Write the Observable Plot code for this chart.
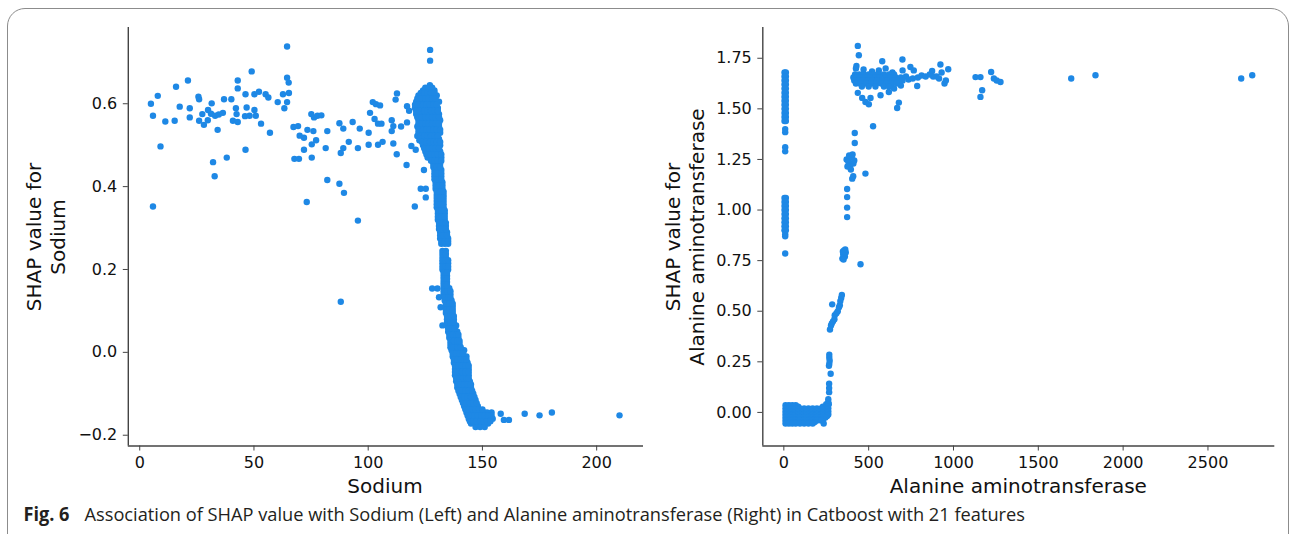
<!DOCTYPE html>
<html><head><meta charset="utf-8">
<script src="https://cdn.jsdelivr.net/npm/d3@7"></script>
<script src="https://cdn.jsdelivr.net/npm/@observablehq/plot@0.6"></script>
<style>
html,body{margin:0;padding:0;background:#fff;width:1290px;height:534px;overflow:hidden;}
#frame{position:absolute;left:7px;top:8px;width:1282px;height:600px;border:1.3px solid #8c8c8c;border-radius:18px;box-sizing:border-box;}
#left{position:absolute;left:0;top:0;}
#right{position:absolute;left:645px;top:0;}
#cap{position:absolute;left:0;top:0;}
</style></head><body>
<div id="frame"></div><div id="left"></div><div id="right"></div>
<svg id="cap" width="1290" height="534"></svg>
<script>
// ---------------- DATA ----------------
const sodiumTicks = [0, 50, 100, 150, 200];
const sodiumShapTicks = [-0.2, 0.0, 0.2, 0.4, 0.6];
const altTicks = [0, 500, 1000, 1500, 2000, 2500];
const altShapTicks = [0.00, 0.25, 0.50, 0.75, 1.00, 1.25, 1.50, 1.75];

// Sodium: scattered points [sodium, SHAP]
const sodiumScatter = [
[4.9,0.600],[5.8,0.571],[5.8,0.352],[7.9,0.619],[9.1,0.497],[11.2,0.557],[15.3,0.559],[15.9,0.641],[17.5,0.593],[21.1,0.656],
[21.9,0.589],[21.9,0.567],[25.7,0.617],[26,0.611],[26,0.559],[27.4,0.575],[28.1,0.549],[29.8,0.560],[29.9,0.585],[31.2,0.576],
[31.5,0.601],[32.1,0.459],[32.8,0.425],[33,0.571],[34.1,0.537],[34.6,0.574],[36.4,0.578],[36.9,0.611],[38.1,0.470],[40.1,0.611],
[40.8,0.559],[42.1,0.589],[42.4,0.575],[42.9,0.656],[42.9,0.637],[42.9,0.556],[46.1,0.570],[46.3,0.623],[46.3,0.489],[46.8,0.591],
[48.1,0.571],[49,0.678],[50.2,0.585],[50.2,0.623],[50.8,0.571],[52.2,0.629],[53.1,0.552],[55.1,0.623],[56.3,0.615],[57,0.530],
[60.4,0.604],[62.7,0.623],[63.3,0.589],[64.5,0.738],[64.5,0.663],[65.2,0.651],[65.3,0.626],[64.5,0.604],[67.3,0.544],[67.7,0.467],
[69.3,0.546],[70,0.523],[71.9,0.518],[73.4,0.537],[76,0.534],[75.1,0.575],[76.3,0.567],[77.8,0.571],[79.5,0.572],[77.2,0.512],
[75.3,0.502],[71.9,0.489],[69.7,0.467],[75.3,0.470],[82.1,0.534],[81.4,0.493],[73.1,0.363],[82.1,0.416],[87.4,0.407],[89.4,0.385],
[95.5,0.318],[88,0.122],[87.4,0.553],[89.1,0.540],[93.2,0.556],[96.3,0.540],[91.5,0.508],[89.1,0.493],[88,0.481],[95.5,0.493],
[100.8,0.578],[102,0.604],[103.4,0.599],[105.2,0.596],[100.2,0.530],[102.8,0.563],[104.3,0.552],[105.8,0.552],[100.2,0.501],[104.3,0.501],
[106.3,0.508],[110.3,0.560],[110.3,0.534],[111,0.546],[112.5,0.478],[111,0.504],[112.6,0.625],[112,0.610],[114.4,0.545],[117,0.594],
[117.9,0.583],[117,0.555],[116.8,0.452],[118.9,0.498],[120.8,0.489],[120.4,0.352],[121.5,0.522],[122.4,0.512],[124.4,0.440],[123,0.395],
[125.2,0.395],[125.2,0.374],[127.1,0.730],[127.1,0.704],[128,0.154],[130.3,0.154],[131,0.133],[131.7,0.109],[132.5,0.065],
[158,-0.148],[159.4,-0.163],[161.6,-0.163],[168.5,-0.148],[175,-0.152],[180.4,-0.145],[210,-0.152]
];

// Sodium: the dense band, read row by row [SHAP, sodium values...]
const sodiumBand = [
[0.645,127],
[0.632,124,126,127.5,129],
[0.62,122,124,125.5,127,128.5,130],
[0.605,121,123,125,126.5,128,129.5,131],
[0.59,120.5,122.5,124,126,127.5,129,130.5],
[0.575,121,123,125,126.5,128,129.5,131],
[0.56,122,124,125.5,127,128.5,130,131.5],
[0.545,121.5,123.5,125,126.5,128,129.5,131],
[0.53,122,124.5,126,127.5,129,130.5,131.5],
[0.515,123,125,126.5,128,129.5,131],
[0.50,124,126,127.5,129,130.5,131.5],
[0.485,125,127,128.5,130,131.5],
[0.47,126,128,129.5,131,132],
[0.455,128.5,130,131.5],
[0.44,129,130.5,132],
[0.425,129,130.5,132],
[0.41,129.5,131,132.5],
[0.395,129.5,131,132.5],
[0.38,130,131.5,133],
[0.365,130,131.5,133],
[0.35,130,131.5,133],
[0.335,130.5,132,133.5],
[0.32,130.5,132,133.5],
[0.305,131,132.5,134],
[0.29,131.5,133,134.5],
[0.275,131.5,133,134.5,135],
[0.262,132,133.5,135],
[0.245,132.5,134],
[0.23,132.5,134],
[0.215,132.5,134,135],
[0.20,132.5,134,135],
[0.185,133,134.5],
[0.17,133,134.5],
[0.155,133,134.5,135.5],
[0.14,133,134.5,136],
[0.125,133.5,135,136.5],
[0.11,134,135.5,137],
[0.095,134,135.5,137],
[0.08,134.5,136,137.5],
[0.065,134.5,136,137.5,138.5],
[0.05,135,136.5,138,139],
[0.035,135.5,137,138.5,139.5],
[0.02,136,137.5,139,140],
[0.005,136.5,138,139.5,140.5,142],
[-0.01,137,138.5,140,141.5,143],
[-0.025,137.5,139,140.5,142,143.5],
[-0.04,138,139.5,141,142.5,144],
[-0.055,138,139.5,141,142.5,144],
[-0.07,138.5,140,141.5,143,144.5],
[-0.085,139,140.5,142,143.5,145],
[-0.10,140,141.5,143,144.5,146],
[-0.115,141,142.5,144,145.5,147],
[-0.13,142,143.5,145,146.5,148],
[-0.145,143,144.5,146,147.5,149,150.5,152,154],
[-0.16,144,145.5,147,148.5,150,151.5,153,154.5],
[-0.172,145,146.5,148,149.5,151,152.5],
[-0.18,147,149,151]
];
// Sodium: band rows read between the rows above
const sodiumBandMid = [
[0.6385,125,126.5,128],
[0.626,123,124.5,126,127.5,129],
[0.6125,121.5,123.5,125,126.5,128,129.5],
[0.5975,120.5,122,124,125.5,127,128.5,130],
[0.5825,121,122.5,124.5,126,127.5,129,130.5],
[0.5675,121.5,123.5,125,126.5,128,129.5,131],
[0.5525,122,123.5,125,126.5,128,129.5,131],
[0.5375,122,124,125.5,127,128.5,130,131.5],
[0.5225,123,124.5,126,127.5,129,130.5],
[0.5075,123.5,125.5,127,128.5,130,131.5],
[0.4925,124.5,126.5,128,129.5,131],
[0.4775,125.5,127.5,129,130.5,132],
[0.4625,127.5,129,130.5,132],
[0.4475,128.5,130,131.5],
[0.4325,129,130.5,132],
[0.4175,129,130.5,132],
[0.4025,129.5,131,132.5],
[0.3875,130,131.5,133],
[0.3725,130,131.5,133],
[0.3575,130,131.5,133],
[0.3425,130.5,132,133.5],
[0.3275,130.5,132,133.5],
[0.3125,131,132.5,134],
[0.2975,131,132.5,134],
[0.2825,131.5,133,134.5],
[0.2685,132,133.5,135],
[0.2375,132.5,134],
[0.2225,132.5,134,135],
[0.2075,132.5,134,135],
[0.1925,133,134.5],
[0.1775,133,134.5],
[0.1625,133,134.5],
[0.1475,133,134.5,136],
[0.1325,133.5,135,136],
[0.1175,134,135.5,137],
[0.1025,134,135.5,137],
[0.0875,134.5,136,137.5],
[0.0725,134.5,136,137.5],
[0.0575,135,136.5,138],
[0.0425,135.5,137,138.5,139.5],
[0.0275,136,137.5,139,140],
[0.0125,136,137.5,139,140.5],
[-0.0025,137,138.5,140,141.5],
[-0.0175,137.5,139,140.5,142,143],
[-0.0325,138,139.5,141,142.5,144],
[-0.0475,138,139.5,141,142.5,144],
[-0.0625,138.5,140,141.5,143,144],
[-0.0775,139,140.5,142,143.5,145],
[-0.0925,139.5,141,142.5,144,145.5],
[-0.1075,140.5,142,143.5,145,146.5],
[-0.1225,141.5,143,144.5,146,147.5],
[-0.1375,142.5,144,145.5,147,148.5,150],
[-0.1525,143.5,145,146.5,148,149.5,151,152.5,154],
[-0.166,144.5,146,147.5,149,150.5,152,153.5]
];

// Alanine aminotransferase: low-value column, rows [SHAP, ALT values...]
const altColumn = [
[1.68,4,12],[1.66,4,12],[1.64,4,12],[1.62,4,12],[1.60,4,12],[1.58,4,12],[1.56,4,12],[1.54,4,12],
[1.52,4,12],[1.50,4,12],[1.48,4,12],[1.46,4,12],[1.44,4,12],[1.40,8],[1.385,8],[1.31,8],[1.29,8],
[1.06,4,12],[1.04,4,12],[1.02,4,12],[1.00,4,12],[0.98,4,12],[0.96,4,12],[0.94,4,12],[0.92,4,12],
[0.90,4,12],[0.88,8],[0.87,8],[0.785,8]
];

// Alanine aminotransferase: dense blob near zero, rows [SHAP, ALT values...]
const altBlob = [
[0.05,262],
[0.04,250,265],
[0.035,10,30,50,70],
[0.028,20,40,60,85,230,255],
[0.02,10,30,50,70,95,120,145,170,195,220,245,262],
[0.012,20,40,60,85,108,132,158,182,208,232,255],
[0.005,10,30,50,70,95,120,145,170,195,220,245,262],
[-0.003,20,40,60,85,108,132,158,182,208,232,255],
[-0.01,10,30,50,70,95,120,145,170,195,220,245,262],
[-0.018,20,40,60,85,108,132,158,182,208,232,255],
[-0.025,10,30,50,70,95,120,145,170,195,220,245],
[-0.033,20,40,60,85,108,132,158,182,208,232],
[-0.04,10,30,50,70,95,120,145,170,195,220],
[-0.048,20,40,60,85,108,132,158,182],
[-0.055,10,30,50,70,95,120,145,170,235]
];

// Alanine aminotransferase: upper cluster rows [SHAP, ALT values...]
const altUpperBand = [
[1.67,420,445,470,500,530,560,590,620,650],
[1.655,410,430,455,480,510,540,565,600,630,660,690],
[1.64,415,440,465,495,520,550,580,610,640,670,700],
[1.625,425,450,485,515,545,575,605,635,665],
[1.61,460,500,540,590,620]
];

// Alanine aminotransferase: remaining points [ALT, SHAP]
const altScatter = [
[436,1.811],[442,1.765],[428,1.712],[580,1.735],[699,1.744],[746,1.707],[766,1.69],[923,1.719],[969,1.696],[874,1.687],
[786,1.613],[947,1.625],[436,1.579],[462,1.554],[481,1.534],[501,1.523],[511,1.554],[570,1.567],[619,1.583],[678,1.531],
[668,1.504],[526,1.414],[418,1.381],[418,1.331],[1130,1.657],[1159,1.657],[1222,1.682],[1238,1.650],[1277,1.633],[1255,1.64],
[1169,1.592],[1159,1.559],[1694,1.650],[1837,1.666],[2696,1.650],[2761,1.666],
[720,1.66],[735,1.645],[760,1.65],[790,1.655],[812,1.665],[836,1.66],[860,1.67],[880,1.66],[900,1.66],[915,1.65],
[930,1.68],[955,1.64],[700,1.69],[560,1.69],[600,1.70],[640,1.68],[520,1.685],[470,1.695],[425,1.70],[690,1.615],[650,1.60],
[481,1.18],[403,1.155],[409,1.167],[373,1.104],[373,1.064],[373,1.012],[373,0.965],[452,0.732],
[370,1.25],[380,1.24],[390,1.22],[400,1.26],[395,1.20],[385,1.27],[410,1.23],[375,1.215],[405,1.275],[415,1.245],
[345,0.76],[350,0.78],[355,0.80],[360,0.77],[365,0.79],[348,0.795],[362,0.805],[352,0.755],
[272,0.41],[278,0.43],[283,0.44],[290,0.45],[298,0.46],[285,0.534],[300,0.48],[310,0.49],[318,0.50],[325,0.52],[330,0.53],[333,0.55],[338,0.565],[342,0.58],
[268,0.285],[268,0.27],[270,0.255],[268,0.24],[266,0.23],[276,0.191],[267,0.142],[267,0.12],[267,0.10],[262,0.065]
];

// ---------------- BUILD ----------------
const rowsToPoints = rows => rows.flatMap(([y, ...xs]) => xs.map(x => [x, y]));
const sodiumData = sodiumScatter.concat(rowsToPoints(sodiumBand), rowsToPoints(sodiumBandMid));
const altData = altScatter.concat(rowsToPoints(altColumn), rowsToPoints(altBlob), rowsToPoints(altUpperBand));

const BLUE = "#1E88E5";
const AX = "#444";
const FONT = "DejaVu Sans, sans-serif";

function panel({data, xDomain, yDomain, xTicks, yTicks, yFmt, marginLeft, marginRight}) {
  return Plot.plot({
    width: 645, height: 500,
    marginLeft, marginRight, marginTop: 27, marginBottom: 54.5,
    style: {fontFamily: FONT, fontSize: "16px", color: "#111", background: "transparent", overflow: "visible"},
    x: {domain: xDomain},
    y: {domain: yDomain},
    marks: [
      Plot.axisX({ticks: xTicks, tickFormat: d3.format("d"), tickSize: 5, tickPadding: 6, label: null, stroke: AX, fontSize: 16}),
      Plot.axisY({ticks: yTicks, tickFormat: yFmt, tickSize: 5, tickPadding: 6, label: null, stroke: AX, fontSize: 16}),
      Plot.ruleX([xDomain[0]], {stroke: AX, strokeWidth: 1.4}),
      Plot.ruleY([yDomain[0]], {stroke: AX, strokeWidth: 1.4}),
      Plot.dot(data, {x: d => d[0], y: d => d[1], r: 3.2, fill: BLUE})
    ]
  });
}

function addLabels(svg, {xLabel, xCenter, yLines, yX}) {
  const s = d3.select(svg);
  s.append("text").attr("x", xCenter).attr("y", 493).attr("text-anchor", "middle")
    .attr("font-family", FONT).attr("font-size", 20).attr("fill", "#111").text(xLabel);
  const t = s.append("text").attr("transform", `translate(${yX},237) rotate(-90)`)
    .attr("text-anchor", "middle").attr("font-family", FONT).attr("font-size", 20).attr("fill", "#111");
  yLines.forEach((l, i) => t.append("tspan").attr("x", 0).attr("y", i * 24).text(l));
}

const leftSvg = panel({data: sodiumData, xDomain: [-5, 220.5], yDomain: [-0.226, 0.784],
  xTicks: sodiumTicks, yTicks: sodiumShapTicks, yFmt: d3.format(".1f"), marginLeft: 127.8, marginRight: 2});
document.getElementById("left").appendChild(leftSvg);
addLabels(leftSvg, {xLabel: "Sodium", xCenter: 385, yLines: ["SHAP value for", "Sodium"], yX: 41});

const rightSvg = panel({data: altData, xDomain: [-124, 2894], yDomain: [-0.166, 1.902],
  xTicks: altTicks, yTicks: altShapTicks, yFmt: d3.format(".2f"), marginLeft: 117.3, marginRight: 15.7});
document.getElementById("right").appendChild(rightSvg);
addLabels(rightSvg, {xLabel: "Alanine aminotransferase", xCenter: 1018.3 - 645, yLines: ["SHAP value for", "Alanine aminotransferase"], yX: 679.5 - 645});

// caption
const cap = d3.select("#cap");
function fitText(str, x, y, width, weight) {
  const t = cap.append("text").attr("x", 0).attr("y", 0).attr("font-family", "Open Sans, Noto Sans, sans-serif")
    .attr("font-size", 19).attr("font-weight", weight).attr("fill", "#231f20").text(str);
  const w = t.node().getComputedTextLength();
  t.attr("transform", `translate(${x},${y}) scale(${width / w},1)`);
}
fitText("Fig. 6", 23.5, 520.5, 46, 700);
fitText("Association of SHAP value with Sodium (Left) and Alanine aminotransferase (Right) in Catboost with 21 features", 84.5, 520.5, 941, 400);
</script>
</body></html>
